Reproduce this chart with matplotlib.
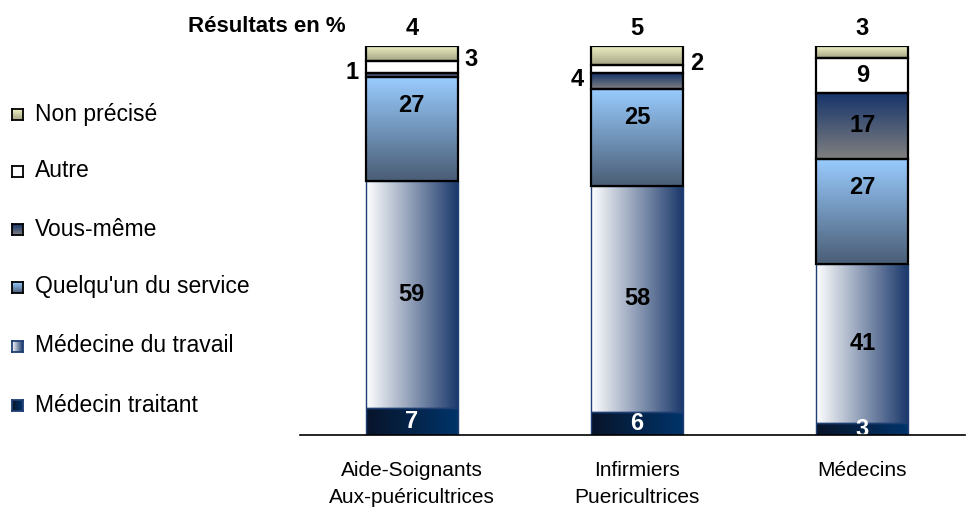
import numpy as np
import matplotlib
matplotlib.use("Agg")
import matplotlib.pyplot as plt
from matplotlib.colors import LinearSegmentedColormap

plt.rcParams['font.family'] = ['Liberation Sans', 'DejaVu Sans']

# Data (percent, as printed on the chart)
categories = ['Aide-Soignants\nAux-puéricultrices', 'Infirmiers\nPuericultrices', 'Médecins']
series = ['Médecin traitant', 'Médecine du travail', "Quelqu'un du service",
          'Vous-même', 'Autre', 'Non précisé']
medecin_traitant = [7, 6, 3]
medecine_travail = [59, 58, 41]
quelquun_service = [27, 25, 27]
vous_meme = [1, 4, 17]
autre = [3, 2, 9]
non_precise = [4, 5, 3]
values = [medecin_traitant, medecine_travail, quelquun_service, vous_meme, autre, non_precise]

# 100% stacked: scale each column to its total
totals = np.sum(values, axis=0)

# gradient styles: (start colour, end colour, direction, edge colour)
styles = {
    'Médecin traitant': ('#08142a', '#00346a', 'h', '#1f3f73'),
    'Médecine du travail': ('#ffffff', '#19376a', 'h', '#1f3f73'),
    "Quelqu'un du service": ('#99ccff', '#4a5d75', 'v', 'black'),
    'Vous-même': ('#15336a', '#808080', 'v', 'black'),
    'Autre': ('#ffffff', '#ffffff', 'v', 'black'),
    'Non précisé': ('#f2f2c4', '#a4a486', 'v', 'black'),
}


def gradient_img(c0, c1, direction):
    cmap = LinearSegmentedColormap.from_list('g', [c0, c1])
    g = np.linspace(0, 1, 256)
    if direction == 'h':
        arr = g[np.newaxis, :]
    else:
        arr = g[:, np.newaxis]  # top row = start colour (origin upper)
    return arr, cmap


W, H = 967, 513
fig = plt.figure(figsize=(W / 100, H / 100), dpi=100)
ax = fig.add_axes([300 / W, (H - 435) / H, 665 / W, (435 - 46) / H])

x = np.arange(len(categories))
bottom = np.zeros(len(categories))
for name, vals in zip(series, values):
    c0, c1, d, ec = styles[name]
    heights = np.array(vals) / totals * 100
    bars = ax.bar(x, heights, width=0.41, bottom=bottom, facecolor='none',
                  edgecolor=ec, linewidth=1.6 if ec == 'black' else 1.0, zorder=3)
    arr, cmap = gradient_img(c0, c1, d)
    for b in bars:
        x0, y0 = b.get_x(), b.get_y()
        x1, y1 = x0 + b.get_width(), y0 + b.get_height()
        ax.imshow(arr, cmap=cmap, extent=(x0, x1, y0, y1), origin='upper',
                  aspect='auto', zorder=2, interpolation='bilinear')
    # value labels
    for b, v in zip(bars, vals):
        xc = b.get_x() + b.get_width() / 2
        top = b.get_y() + b.get_height()
        mid = b.get_y() + b.get_height() / 2
        kw = dict(fontsize=17, fontweight='bold', zorder=5)
        if name == 'Médecin traitant':
            ax.text(xc, mid, str(v), ha='center', va='center', color='white', **kw)
        elif v >= 6:
            ypos = top - 7.5 if name == "Quelqu'un du service" else mid
            ax.text(xc, ypos, str(v), ha='center', va='center', color='black', **kw)
        elif name == 'Non précisé':
            ax.text(xc, top + 1.5, str(v), ha='center', va='bottom', color='black', **kw)
        elif name == 'Autre':
            ax.text(b.get_x() + b.get_width() + 0.03, top + 0.5, str(v),
                    ha='left', va='center', color='black', **kw)
        else:
            ax.text(b.get_x() - 0.03, mid + 0.5, str(v),
                    ha='right', va='center', color='black', **kw)
    bottom += heights

ax.set_xlim(-0.496, 2.456)
ax.set_ylim(0, 100)
ax.set_xticks(x)
ax.set_xticklabels(categories, fontsize=15, linespacing=1.5)
ax.tick_params(axis='x', length=0, pad=19)
ax.set_yticks([])
for s in ['top', 'right', 'left']:
    ax.spines[s].set_visible(False)
ax.spines['bottom'].set_linewidth(1.2)
ax.spines['bottom'].set_zorder(6)

# title
fig.text(188 / W, 1 - 26 / H, 'Résultats en %', fontsize=16, fontweight='bold',
         ha='left', va='center')

# manual legend (top to bottom)
leg_y = [114, 171, 229, 287, 346, 405]
for name, yp in zip(series[::-1], leg_y):
    c0, c1, d, ec = styles[name]
    lax = fig.add_axes([12 / W, 1 - (yp + 6) / H, 11 / W, 11 / H])
    arr, cmap = gradient_img(c0, c1, d)
    lax.imshow(arr, cmap=cmap, aspect='auto', origin='upper', interpolation='bilinear')
    lax.set_xticks([])
    lax.set_yticks([])
    for sp in lax.spines.values():
        sp.set_color(ec)
        sp.set_linewidth(1.3)
    fig.text(35 / W, 1 - yp / H, name, fontsize=16.5, ha='left', va='center')

fig.savefig('out.png', dpi=100)
